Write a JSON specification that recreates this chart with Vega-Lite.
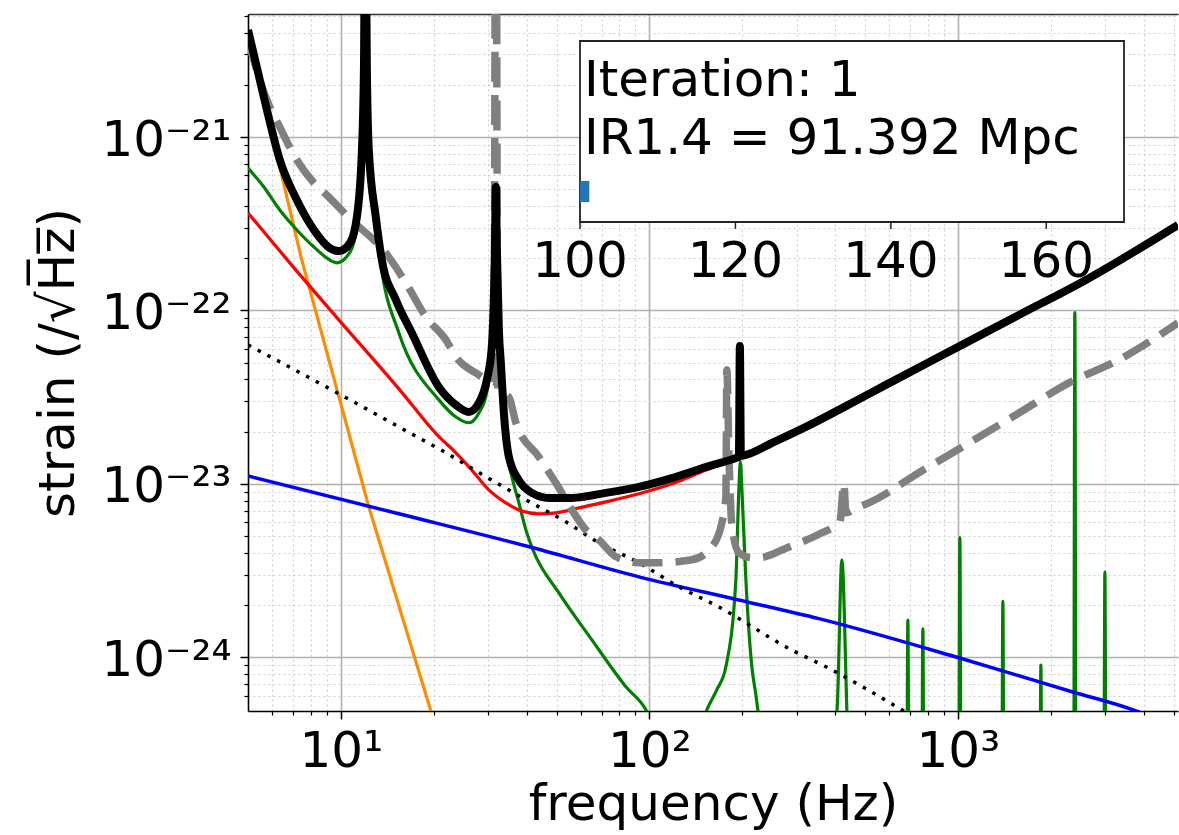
{
  "$schema": "https://vega.github.io/schema/vega-lite/v6.json",
  "width": 930,
  "height": 697,
  "autosize": {"type": "none"},
  "padding": {"left": 248, "top": 14, "right": 1, "bottom": 124},
  "background": "white",
  "config": {
    "view": {"stroke": null},
    "font": "DejaVu Sans",
    "axis": {"labelFont": "DejaVu Sans", "titleFont": "DejaVu Sans", "labelColor": "black", "titleColor": "black", "titleFontWeight": "normal", "tickColor": "black", "domainColor": "black"}
  },
  "datasets": {
    "orange": [
      {"f": 5, "h": 4.0e-21}, {"f": 7.47, "h": 1.95e-22}, {"f": 12.32, "h": 7.37e-24}, {"f": 19.57, "h": 4.91e-25}, {"f": 21.57, "h": 2.67e-25}
    ],
    "green": [
      {"f": 5, "h": 6.63e-22}, {"f": 5.63, "h": 5.15e-22}, {"f": 6.34, "h": 3.79e-22}, {"f": 7.2, "h": 2.91e-22}, {"f": 8.18, "h": 2.32e-22},
      {"f": 9.49, "h": 1.9e-22}, {"f": 9.7, "h": 1.88e-22}, {"f": 10.7, "h": 2.17e-22}, {"f": 11.27, "h": 2.99e-22}, {"f": 11.7, "h": 7.37e-22},
      {"f": 11.88, "h": 2.13e-21}, {"f": 12.0, "h": 2e-20}, {"f": 12.14, "h": 2.13e-21}, {"f": 12.32, "h": 7.37e-22}, {"f": 12.98, "h": 2.99e-22},
      {"f": 13.58, "h": 1.67e-22}, {"f": 15.42, "h": 7.42e-23}, {"f": 20.78, "h": 3.05e-23}, {"f": 23.6, "h": 2.43e-23}, {"f": 26.0, "h": 2.25e-23},
      {"f": 28.01, "h": 2.56e-23}, {"f": 29.73, "h": 3.39e-23}, {"f": 30.85, "h": 5.54e-23}, {"f": 31.8, "h": 4.33e-22}, {"f": 33.01, "h": 4.25e-23},
      {"f": 34.52, "h": 1.51e-23}, {"f": 35.83, "h": 1.1e-23}, {"f": 37.76, "h": 7.77e-24}, {"f": 39.79, "h": 5.43e-24}, {"f": 41.93, "h": 4.17e-24},
      {"f": 50.9, "h": 2.35e-24}, {"f": 65.11, "h": 1.26e-24}, {"f": 83.92, "h": 6.76e-25}, {"f": 97.43, "h": 4.98e-25}, {"f": 107.4, "h": 3.35e-25},
      {"f": 134.3, "h": 2.25e-25}, {"f": 153.6, "h": 4.98e-25}, {"f": 165.5, "h": 6.5e-25}, {"f": 177.0, "h": 8.81e-25}, {"f": 190.7, "h": 2.8e-24},
      {"f": 195.0, "h": 9.24e-24}, {"f": 197.2, "h": 1.34e-23}, {"f": 199.5, "h": 9.24e-24}, {"f": 205.5, "h": 2.8e-24}, {"f": 214.9, "h": 8.81e-25},
      {"f": 221.4, "h": 6.08e-25}, {"f": 224.7, "h": 4.98e-25}, {"f": 243.9, "h": 2.93e-25}, {"f": 305.2, "h": 1.5e-25},
      {"f": 405.3, "h": 4.9e-25}, {"f": 420.7, "h": 3.65e-24}, {"f": 436.8, "h": 4.9e-25}, {"f": 450, "h": 1e-25},
      {"f": 682, "h": 1e-25}, {"f": 688.5, "h": 1.64e-24}, {"f": 695, "h": 1e-25},
      {"f": 763, "h": 1e-25}, {"f": 770.0, "h": 1.46e-24}, {"f": 777, "h": 1e-25},
      {"f": 1006, "h": 1e-25}, {"f": 1015, "h": 4.9e-24}, {"f": 1024, "h": 1e-25},
      {"f": 1387, "h": 1e-25}, {"f": 1399, "h": 2.1e-24}, {"f": 1411, "h": 1e-25},
      {"f": 1842, "h": 1e-25}, {"f": 1858, "h": 9.0e-25}, {"f": 1874, "h": 1e-25},
      {"f": 2373, "h": 1e-25}, {"f": 2394, "h": 9.7e-23}, {"f": 2415, "h": 1e-25},
      {"f": 2970, "h": 1e-25}, {"f": 2996, "h": 3.1e-24}, {"f": 3022, "h": 1e-25},
      {"f": 5170, "h": 1e-25}
    ],
    "red": [
      {"f": 5, "h": 3.65e-22}, {"f": 6.83, "h": 1.88e-22}, {"f": 9.85, "h": 8.82e-23}, {"f": 15.42, "h": 3.53e-23}, {"f": 20.78, "h": 1.87e-23},
      {"f": 23.6, "h": 1.51e-23}, {"f": 26.58, "h": 1.2e-23}, {"f": 30.17, "h": 9.24e-24}, {"f": 34.26, "h": 7.77e-24}, {"f": 38.33, "h": 6.99e-24},
      {"f": 43.83, "h": 6.72e-24}, {"f": 49.77, "h": 6.81e-24}, {"f": 59.09, "h": 7.27e-24}, {"f": 72.28, "h": 7.87e-24}, {"f": 92.47, "h": 8.76e-24},
      {"f": 118.3, "h": 1.0e-23}, {"f": 152.5, "h": 1.2e-23}, {"f": 190.7, "h": 1.39e-23}, {"f": 205.5, "h": 1.45e-23}, {"f": 249.5, "h": 1.7e-23},
      {"f": 321.6, "h": 2.1e-23}, {"f": 411.4, "h": 2.63e-23}, {"f": 584.3, "h": 3.67e-23}, {"f": 1061, "h": 6.4e-23}, {"f": 1577, "h": 9.3e-23},
      {"f": 2600, "h": 1.48e-22}, {"f": 5170, "h": 3.07e-22}
    ],
    "blue": [
      {"f": 5, "h": 1.11e-23}, {"f": 15.42, "h": 6.72e-24}, {"f": 41.93, "h": 4.28e-24}, {"f": 92.47, "h": 2.91e-24}, {"f": 195.0, "h": 2.14e-24},
      {"f": 354.3, "h": 1.67e-24}, {"f": 1007, "h": 9.93e-25}, {"f": 2342, "h": 6.33e-25}, {"f": 3776, "h": 4.91e-25}, {"f": 5170, "h": 3.9e-25}
    ],
    "dotted": [
      {"f": 5, "h": 6.33e-23}, {"f": 10, "h": 3.26e-23}, {"f": 15.42, "h": 2.13e-23}, {"f": 21.9, "h": 1.51e-23}, {"f": 29.51, "h": 1.1e-23},
      {"f": 39.79, "h": 8.09e-24}, {"f": 53.62, "h": 6.04e-24}, {"f": 68.6, "h": 4.57e-24}, {"f": 92.47, "h": 3.51e-24}, {"f": 124.6, "h": 2.55e-24},
      {"f": 168.0, "h": 1.95e-24}, {"f": 289.7, "h": 1.1e-24}, {"f": 373.4, "h": 8.81e-25}, {"f": 658.4, "h": 4.98e-25}, {"f": 747.4, "h": 4.36e-25}
    ],
    "gray": [
      {"f": 5, "h": 3.62e-21}, {"f": 5.22, "h": 2.78e-21}, {"f": 5.76, "h": 1.63e-21}, {"f": 6.34, "h": 1.14e-21}, {"f": 7.2, "h": 7.37e-22},
      {"f": 8.18, "h": 5.43e-22}, {"f": 9.14, "h": 4.51e-22}, {"f": 10.4, "h": 3.55e-22}, {"f": 14.31, "h": 2.03e-22}, {"f": 16.25, "h": 1.44e-22},
      {"f": 18.86, "h": 9.18e-23}, {"f": 21.9, "h": 6.76e-23}, {"f": 23.6, "h": 5.4e-23}, {"f": 27.39, "h": 4.36e-23}, {"f": 31.33, "h": 3.87e-23},
      {"f": 31.8, "h": 1e-19}, {"f": 32.28, "h": 3.48e-23}, {"f": 35.04, "h": 3.17e-23}, {"f": 36.92, "h": 2.25e-23}, {"f": 43.83, "h": 1.43e-23},
      {"f": 49.77, "h": 1.01e-23}, {"f": 56.08, "h": 7.08e-24}, {"f": 62.26, "h": 5.43e-24}, {"f": 68.6, "h": 4.75e-24}, {"f": 77.89, "h": 3.8e-24},
      {"f": 92.47, "h": 3.51e-24}, {"f": 107.4, "h": 3.51e-24}, {"f": 137.3, "h": 3.65e-24}, {"f": 159.4, "h": 4.33e-24}, {"f": 171.8, "h": 5.96e-24},
      {"f": 177.0, "h": 8.41e-24}, {"f": 178.3, "h": 4.54e-23}, {"f": 181.0, "h": 1.51e-23}, {"f": 185.1, "h": 5.81e-24}, {"f": 195.0, "h": 4.0e-24},
      {"f": 214.9, "h": 3.75e-24}, {"f": 226.4, "h": 3.75e-24}, {"f": 283.3, "h": 4.33e-24}, {"f": 362.4, "h": 5.22e-24}, {"f": 414.5, "h": 6.04e-24},
      {"f": 427.0, "h": 1.01e-23}, {"f": 433.5, "h": 6.81e-24}, {"f": 477.6, "h": 7.37e-24}, {"f": 514.6, "h": 7.77e-24}, {"f": 747.4, "h": 1.16e-23},
      {"f": 1086, "h": 1.72e-23}, {"f": 1577, "h": 2.56e-23}, {"f": 2290, "h": 3.82e-23}, {"f": 3326, "h": 5.19e-23}, {"f": 5170, "h": 8.47e-23}
    ],
    "black": [
      {"f": 5, "h": 4.14e-21}, {"f": 5.34, "h": 2.53e-21}, {"f": 5.76, "h": 1.43e-21}, {"f": 6.34, "h": 7.37e-22}, {"f": 7.2, "h": 4.33e-22},
      {"f": 8.18, "h": 2.91e-22}, {"f": 9.21, "h": 2.29e-22}, {"f": 9.85, "h": 2.2e-22}, {"f": 10.7, "h": 2.45e-22}, {"f": 11.27, "h": 3.46e-22},
      {"f": 11.7, "h": 8.41e-22}, {"f": 11.88, "h": 2.53e-21}, {"f": 12.0, "h": 3e-20}, {"f": 12.14, "h": 2.53e-21}, {"f": 12.32, "h": 8.41e-22},
      {"f": 12.98, "h": 3.46e-22}, {"f": 13.58, "h": 1.95e-22}, {"f": 15.08, "h": 1.15e-22}, {"f": 16.99, "h": 7.42e-23}, {"f": 20.78, "h": 3.62e-23},
      {"f": 23.6, "h": 2.85e-23}, {"f": 26.0, "h": 2.6e-23}, {"f": 28.01, "h": 2.93e-23}, {"f": 29.73, "h": 3.98e-23}, {"f": 30.85, "h": 6.16e-23},
      {"f": 31.57, "h": 2.23e-22}, {"f": 31.8, "h": 5.15e-22}, {"f": 32.04, "h": 2.23e-22}, {"f": 32.52, "h": 7.72e-23}, {"f": 33.01, "h": 4.98e-23},
      {"f": 33.76, "h": 2.56e-23}, {"f": 35.04, "h": 1.43e-23}, {"f": 37.76, "h": 1.05e-23}, {"f": 41.6, "h": 8.87e-24}, {"f": 47.23, "h": 8.3e-24},
      {"f": 56.08, "h": 8.3e-24}, {"f": 72.28, "h": 8.87e-24}, {"f": 92.47, "h": 9.61e-24}, {"f": 118.3, "h": 1.08e-23}, {"f": 152.5, "h": 1.25e-23},
      {"f": 190.7, "h": 1.41e-23}, {"f": 195.0, "h": 1.43e-23}, {"f": 196.5, "h": 6.24e-23}, {"f": 198.0, "h": 1.45e-23}, {"f": 205.5, "h": 1.47e-23},
      {"f": 249.5, "h": 1.72e-23}, {"f": 321.6, "h": 2.13e-23}, {"f": 411.4, "h": 2.67e-23}, {"f": 584.3, "h": 3.72e-23}, {"f": 1061, "h": 6.5e-23},
      {"f": 1577, "h": 9.42e-23}, {"f": 2600, "h": 1.5e-22}, {"f": 5170, "h": 3.11e-22}
    ],
    "inset_ticks": [
      {"tick": 100}, {"tick": 120}, {"tick": 140}, {"tick": 160}
    ]
  },
  "layer": [
    {
      "layer": [
        {
          "data": {"name": "orange"},
          "mark": {"type": "line", "color": "#ff8c00", "strokeWidth": 3.2, "clip": true},
          "encoding": {
            "x": {"field": "f", "type": "quantitative", "scale": {"type": "log", "domain": [5, 5170], "nice": false},
              "axis": {"orient": "bottom", "values": [6, 7, 8, 9, 20, 30, 40, 50, 60, 70, 80, 90, 200, 300, 400, 500, 600, 700, 800, 900, 2000, 3000, 4000, 5000],
                "labels": false, "domain": false, "ticks": true, "tickSize": 4, "tickWidth": 1.2, "grid": true, "gridColor": "#cfcfcf", "gridDash": [2, 3], "gridWidth": 1.2, "title": null}},
            "y": {"field": "h", "type": "quantitative", "scale": {"type": "log", "domain": [4.9e-25, 5.12e-21], "nice": false},
              "axis": {"orient": "left", "values": [6e-25, 7e-25, 8e-25, 9e-25, 2e-24, 3e-24, 4e-24, 5e-24, 6e-24, 7e-24, 8e-24, 9e-24, 2e-23, 3e-23, 4e-23, 5e-23, 6e-23, 7e-23, 8e-23, 9e-23, 2e-22, 3e-22, 4e-22, 5e-22, 6e-22, 7e-22, 8e-22, 9e-22, 2e-21, 3e-21, 4e-21, 5e-21],
                "labels": false, "domain": false, "ticks": true, "tickSize": 4, "tickWidth": 1.2, "grid": true, "gridColor": "#cfcfcf", "gridDash": [2, 3], "gridWidth": 1.2, "title": null}}
          }
        },
        {
          "data": {"name": "green"},
          "mark": {"type": "line", "color": "#008000", "strokeWidth": 3.2, "interpolate": "monotone", "clip": true},
          "encoding": {
            "x": {"field": "f", "type": "quantitative", "scale": {"type": "log", "domain": [5, 5170], "nice": false}, "axis": null},
            "y": {"field": "h", "type": "quantitative", "scale": {"type": "log", "domain": [4.9e-25, 5.12e-21], "nice": false}, "axis": null}
          }
        },
        {
          "data": {"name": "red"},
          "mark": {"type": "line", "color": "#ff0000", "strokeWidth": 3.2, "interpolate": "monotone", "clip": true},
          "encoding": {
            "x": {"field": "f", "type": "quantitative", "scale": {"type": "log", "domain": [5, 5170], "nice": false},
              "axis": {"orient": "top", "labels": false, "ticks": false, "grid": false, "domain": true, "domainColor": "#333333", "domainWidth": 1.6, "title": null}},
            "y": {"field": "h", "type": "quantitative", "scale": {"type": "log", "domain": [4.9e-25, 5.12e-21], "nice": false}, "axis": null}
          }
        },
        {
          "data": {"name": "blue"},
          "mark": {"type": "line", "color": "#0000ff", "strokeWidth": 3.5, "interpolate": "monotone", "clip": true},
          "encoding": {
            "x": {"field": "f", "type": "quantitative", "scale": {"type": "log", "domain": [5, 5170], "nice": false}, "axis": null},
            "y": {"field": "h", "type": "quantitative", "scale": {"type": "log", "domain": [4.9e-25, 5.12e-21], "nice": false}, "axis": null}
          }
        },
        {
          "data": {"name": "dotted"},
          "mark": {"type": "line", "color": "black", "strokeWidth": 3.5, "strokeDash": [3.5, 7.5], "interpolate": "monotone", "clip": true},
          "encoding": {
            "x": {"field": "f", "type": "quantitative", "scale": {"type": "log", "domain": [5, 5170], "nice": false}, "axis": null},
            "y": {"field": "h", "type": "quantitative", "scale": {"type": "log", "domain": [4.9e-25, 5.12e-21], "nice": false}, "axis": null}
          }
        },
        {
          "data": {"name": "gray"},
          "mark": {"type": "line", "color": "#808080", "strokeWidth": 7.5, "strokeDash": [30, 13], "strokeJoin": "round", "interpolate": "monotone", "clip": true},
          "encoding": {
            "x": {"field": "f", "type": "quantitative", "scale": {"type": "log", "domain": [5, 5170], "nice": false}, "axis": null},
            "y": {"field": "h", "type": "quantitative", "scale": {"type": "log", "domain": [4.9e-25, 5.12e-21], "nice": false}, "axis": null}
          }
        },
        {
          "data": {"name": "black"},
          "mark": {"type": "line", "color": "black", "strokeWidth": 8, "strokeJoin": "round", "interpolate": "monotone", "clip": true},
          "encoding": {
            "x": {"field": "f", "type": "quantitative", "scale": {"type": "log", "domain": [5, 5170], "nice": false},
              "axis": {"orient": "bottom", "values": [10, 100, 1000],
                "labelExpr": "datum.value < 50 ? '10\u00b9' : datum.value < 500 ? '10\u00b2' : '10\u00b3'",
                "labelFontSize": 50, "labelPadding": 7, "labelFlush": false, "tickSize": 8, "tickWidth": 1.5,
                "domain": true, "domainWidth": 1.6, "grid": true, "gridColor": "#b0b0b0", "gridWidth": 1.6,
                "title": "frequency (Hz)", "titleFontSize": 50, "titleY": 108, "titleBaseline": "alphabetic"}},
            "y": {"field": "h", "type": "quantitative", "scale": {"type": "log", "domain": [4.9e-25, 5.12e-21], "nice": false},
              "axis": {"orient": "left", "values": [1e-24, 1e-23, 1e-22, 1e-21],
                "labelExpr": "datum.value < 5e-24 ? '10\u207b\u00b2\u2074' : datum.value < 5e-23 ? '10\u207b\u00b2\u00b3' : datum.value < 5e-22 ? '10\u207b\u00b2\u00b2' : '10\u207b\u00b2\u00b9'",
                "labelFontSize": 50, "labelPadding": 9, "labelOffset": 3, "tickSize": 8, "tickWidth": 1.5,
                "domain": true, "domainWidth": 1.6, "grid": true, "gridColor": "#b0b0b0", "gridWidth": 1.6,
                "title": "strain (/\u221aH\u0305z\u0305)", "titleFontSize": 50, "titleX": -175, "titleY": 348.5, "titleAngle": 270, "titleBaseline": "alphabetic", "titleAlign": "center"}}
          }
        }
      ],
      "resolve": {"axis": {"x": "independent", "y": "independent"}}
    },
    {
      "layer": [
        {
          "data": {"values": [{"panel": "inset"}]},
          "mark": {"type": "rect", "fill": "white", "stroke": "#222222", "strokeWidth": 1.8},
          "encoding": {
            "x": {"datum": 100, "type": "quantitative", "scale": {"domain": [100, 170], "range": [332, 876], "nice": false, "zero": false}, "axis": null},
            "x2": {"datum": 170},
            "y": {"datum": 0, "type": "quantitative", "scale": {"domain": [0, 1], "range": [208, 27], "nice": false, "zero": false}, "axis": null},
            "y2": {"datum": 1}
          }
        },
        {
          "data": {"values": [{"iteration": 1, "start": 100, "end": 101.2}]},
          "mark": {"type": "rect", "fill": "#1f77b4"},
          "encoding": {
            "x": {"field": "start", "type": "quantitative", "scale": {"domain": [100, 170], "range": [332, 876], "nice": false, "zero": false}, "axis": null},
            "x2": {"field": "end"},
            "y": {"datum": 0.11, "type": "quantitative", "scale": {"domain": [0, 1], "range": [208, 27], "nice": false, "zero": false}, "axis": null},
            "y2": {"datum": 0.227}
          }
        },
        {
          "data": {"name": "inset_ticks"},
          "mark": {"type": "rule", "color": "#222222", "strokeWidth": 1.5},
          "encoding": {
            "x": {"field": "tick", "type": "quantitative", "scale": {"domain": [100, 170], "range": [332, 876], "nice": false, "zero": false}, "axis": null},
            "y": {"datum": 0, "type": "quantitative", "scale": {"domain": [0, 1], "range": [208, 27], "nice": false, "zero": false}, "axis": null},
            "y2": {"datum": -0.038}
          }
        },
        {
          "data": {"name": "inset_ticks"},
          "mark": {"type": "text", "align": "center", "baseline": "alphabetic", "fontSize": 50, "font": "DejaVu Sans", "color": "black"},
          "encoding": {
            "x": {"field": "tick", "type": "quantitative", "scale": {"domain": [100, 170], "range": [332, 876], "nice": false, "zero": false}, "axis": null},
            "y": {"datum": -0.304, "type": "quantitative", "scale": {"domain": [0, 1], "range": [208, 27], "nice": false, "zero": false}, "axis": null},
            "text": {"field": "tick", "type": "quantitative", "format": "d"}
          }
        },
        {
          "data": {"values": [{"label": "annotation"}]},
          "mark": {"type": "text", "text": ["Iteration: 1", "IR1.4 = 91.392 Mpc"], "align": "left", "baseline": "alphabetic", "fontSize": 50, "lineHeight": 58, "font": "DejaVu Sans", "color": "black"},
          "encoding": {
            "x": {"datum": 100.5, "type": "quantitative", "scale": {"domain": [100, 170], "range": [332, 876], "nice": false, "zero": false}, "axis": null},
            "y": {"datum": 0.696, "type": "quantitative", "scale": {"domain": [0, 1], "range": [208, 27], "nice": false, "zero": false}, "axis": null}
          }
        }
      ]
    }
  ],
  "resolve": {"scale": {"x": "independent", "y": "independent"}}
}
